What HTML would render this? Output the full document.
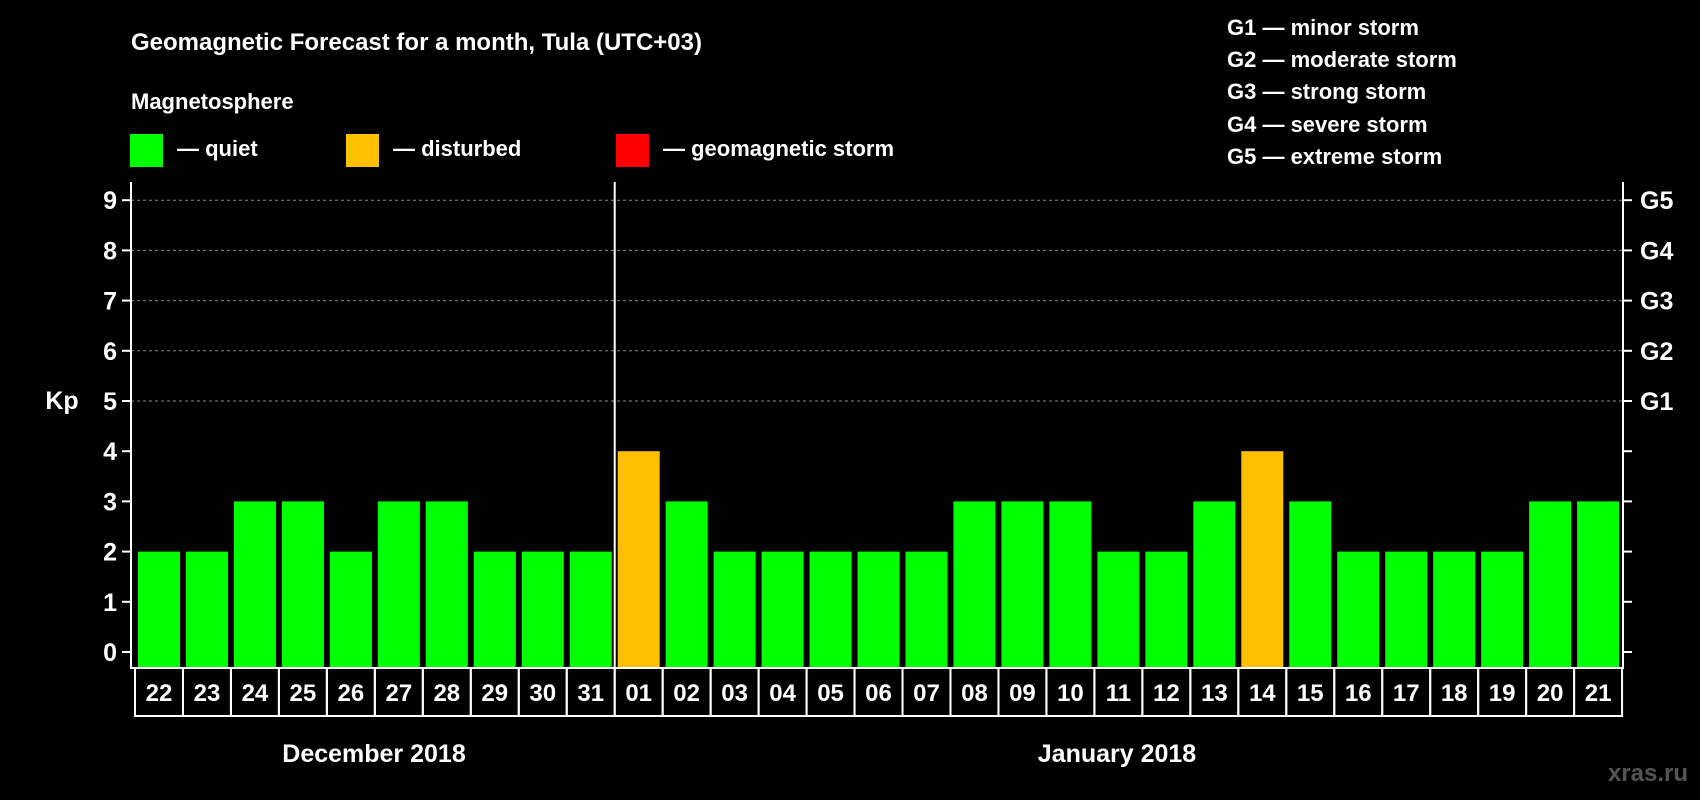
<!DOCTYPE html>
<html><head><meta charset="utf-8"><style>
html,body{margin:0;padding:0;background:#000;}
svg{display:block;font-family:"Liberation Sans",Arial,sans-serif;font-weight:bold;}
</style></head><body>
<svg id="chart" width="1700" height="800" viewBox="0 0 1700 800" xmlns="http://www.w3.org/2000/svg">
<rect width="1700" height="800" fill="#000"/>
<text x="131" y="50" fill="#fff" font-size="24">Geomagnetic Forecast for a month, Tula (UTC+03)</text>
<text x="131" y="109" fill="#fff" font-size="22">Magnetosphere</text>
<g><rect x="130" y="134" width="33" height="33" fill="#00ff00"/><text x="177" y="156" fill="#fff" font-size="22">— quiet</text></g>
<g><rect x="346" y="134" width="33" height="33" fill="#ffc000"/><text x="393" y="156" fill="#fff" font-size="22">— disturbed</text></g>
<g><rect x="616" y="134" width="33" height="33" fill="#ff0000"/><text x="663" y="156" fill="#fff" font-size="22">— geomagnetic storm</text></g>
<g fill="#fff" font-size="22">
<text x="1227" y="35">G1 — minor storm</text>
<text x="1227" y="67">G2 — moderate storm</text>
<text x="1227" y="99">G3 — strong storm</text>
<text x="1227" y="132">G4 — severe storm</text>
<text x="1227" y="164">G5 — extreme storm</text>
</g>
<text x="62" y="409" fill="#fff" font-size="25" text-anchor="middle">Kp</text>
<g id="grid"></g><g id="bars"></g><g id="axes"></g><g id="dates"></g>
<text x="374" y="762" fill="#fff" font-size="25" text-anchor="middle">December 2018</text>
<text x="1117" y="762" fill="#fff" font-size="25" text-anchor="middle">January 2018</text>
<text x="1688" y="781" fill="#555" font-size="24" text-anchor="end">xras.ru</text>
</svg>
<script>
const days = ["22","23","24","25","26","27","28","29","30","31","01","02","03","04","05","06","07","08","09","10","11","12","13","14","15","16","17","18","19","20","21"];
const kpValues = [2,2,3,3,2,3,3,2,2,2,4,3,2,2,2,2,2,3,3,3,2,2,3,4,3,2,2,2,2,3,3];
const yTicks = [0,1,2,3,4,5,6,7,8,9];
const gLabels = ["","","","","","G1","G2","G3","G4","G5"];
const NS="http://www.w3.org/2000/svg";
const L=131,R=1623,T=182,B=668,y0=652,unit=50.2,x0=138,step=47.97,bw=42;
const y=v=>y0-v*unit;
const xs=i=>x0+i*step;
function mk(t,a,p){const e=document.createElementNS(NS,t);for(const k in a)e.setAttribute(k,a[k]);p.appendChild(e);return e;}
const grid=document.getElementById('grid'),bars=document.getElementById('bars'),axes=document.getElementById('axes'),dates=document.getElementById('dates');
yTicks.forEach((v,i)=>{
  if(v>=5){const g=mk('line',{x1:L,x2:R,y1:y(v),y2:y(v),stroke:'#888','stroke-dasharray':'3,3','stroke-width':1},grid);
    
    }
  const lt=mk('line',{x1:L-9,x2:L,y1:y(v),y2:y(v),stroke:'#fff','stroke-width':2},axes);
  
  
  const rt=mk('line',{x1:R,x2:R+9,y1:y(v),y2:y(v),stroke:'#fff','stroke-width':2},axes);
  
  
  const tl=mk('text',{x:L-14,y:y(v)+9,fill:'#fff','font-size':25,'text-anchor':'end'},axes);tl.textContent=v;
  
  
  if(gLabels[i]){const gl=mk('text',{x:R+17,y:y(v)+9,fill:'#fff','font-size':25},axes);gl.textContent=gLabels[i];
    
    }
});
kpValues.forEach((v,i)=>{
  const c=v>=5?'#ff0000':(v>=4?'#ffc000':'#00ff00');
  const b=mk('rect',{x:xs(i),y:y(v),width:bw,height:B-y(v)-1,fill:c},bars);
  
  
});
const frame=mk('polyline',{points:`${L},${T} ${L},${B} ${R},${B} ${R},${T}`,fill:'none',stroke:'#fff','stroke-width':2},axes);


const sepX=(xs(9)+bw+xs(10))/2;
const sep=mk('line',{x1:sepX,x2:sepX,y1:T,y2:B,stroke:'#fff','stroke-width':2},axes);


days.forEach((d,i)=>{
  const bx=xs(i)-3;
  const r=mk('rect',{x:bx,y:B,width:step,height:48,fill:'none',stroke:'#fff','stroke-width':2},dates);
  
  
  const t=mk('text',{x:bx+step/2,y:B+33,fill:'#fff','font-size':24,'text-anchor':'middle'},dates);t.textContent=d;
  
  
});
</script>
</body></html>
